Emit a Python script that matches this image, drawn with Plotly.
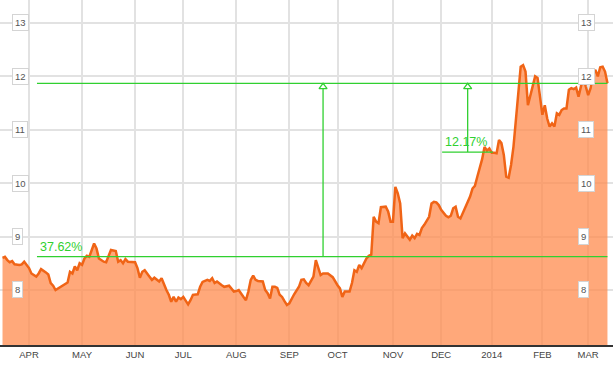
import plotly.graph_objects as go

# ---- data (trading-day index vs. closing price) ----
trading_day = [0,1,2,3,4,5,7,8,9,11,12,14,15,16,18,19,20,21,22,24,25,27,28,29,30,31,32,33,34,35,36,38,39,40,42,43,45,47,48,49,50,51,52,54,55,56,57,58,59,61,62,63,65,66,67,68,69,70,71,72,73,74,75,76,77,78,79,81,82,83,85,86,87,88,89,91,92,94,95,96,97,98,100,101,102,103,104,105,106,108,109,110,111,112,113,114,115,116,117,118,119,120,121,123,124,125,126,127,129,130,131,132,133,135,137,138,139,140,141,142,144,145,146,147,148,149,150,151,152,153,154,155,156,157,159,160,161,162,163,164,165,166,167,169,170,171,172,173,174,175,177,178,179,180,181,182,184,185,186,187,188,189,190,191,192,193,194,195,196,197,198,199,200,201,202,203,204,205,206,207,208,209,210,211,212,213,214,215,216,217,218,219,220,221,222,223,224,225,226,227,228,229,230,231,232,233,234,235,236,237,238,239,240,241,242,243,244,245,246,247,248,249,250,251]
close = [8.60,8.62,8.56,8.52,8.54,8.48,8.47,8.48,8.53,8.41,8.31,8.25,8.31,8.39,8.33,8.29,8.13,8.08,8.00,8.06,8.09,8.14,8.34,8.31,8.44,8.37,8.50,8.47,8.59,8.64,8.62,8.87,8.78,8.59,8.53,8.52,8.75,8.73,8.53,8.56,8.50,8.58,8.53,8.52,8.52,8.41,8.23,8.34,8.37,8.25,8.19,8.23,8.16,8.22,8.09,8.00,7.91,7.78,7.87,7.78,7.86,7.83,7.87,7.81,7.73,7.81,7.91,7.92,8.06,8.15,8.19,8.17,8.22,8.13,8.16,8.09,8.06,8.08,8.03,7.97,7.98,8.00,7.87,7.81,7.97,8.19,8.27,8.19,8.17,8.16,8.00,7.94,7.84,8.06,8.06,8.04,7.91,7.87,7.79,7.72,7.75,7.84,7.92,8.06,8.19,8.20,8.13,8.09,8.25,8.56,8.41,8.28,8.31,8.31,8.24,8.16,8.09,8.03,7.87,7.97,7.97,8.13,8.37,8.34,8.47,8.41,8.51,8.59,8.64,8.66,9.37,9.28,9.25,9.55,9.56,9.47,9.28,9.28,9.93,9.81,9.62,8.97,9.06,8.94,9.02,8.97,9.05,9.03,9.16,9.22,9.37,9.62,9.65,9.64,9.59,9.50,9.39,9.36,9.39,9.53,9.56,9.37,9.34,9.44,9.53,9.62,9.75,9.90,9.95,10.12,10.28,10.45,10.68,10.61,10.65,10.57,10.57,10.56,10.81,10.75,10.53,10.12,10.10,10.34,10.68,11.21,11.71,12.18,12.21,12.09,11.46,11.65,11.84,12.00,11.97,11.59,11.28,11.46,11.21,11.06,11.12,11.06,11.31,11.28,11.37,11.40,11.40,11.75,11.78,11.76,11.79,11.62,11.84,12.00,11.81,11.65,11.78,12.06,12.12,12.00,12.17,12.18,12.09,11.87]

month_ticks = [11, 33, 55, 75, 97, 119, 139, 162, 182, 203, 224, 243]
month_labels = ["APR", "MAY", "JUN", "JUL", "AUG", "SEP", "OCT", "NOV", "DEC", "2014", "FEB", "MAR"]
price_ticks = [8, 9, 10, 11, 12, 13]

# measurement tool: base prices and where they were drawn
base_long = 8.625
base_short = 10.582
long_from, long_arrow = 14.3, 133
short_from, short_arrow, short_to = 182.4, 193, 203.5

# ---- layout constants ----
W, H = 613, 369
MB = 24
Y_RANGE = [6.97, 13.43]
X_RANGE = [-1.04, 253.3]
GREEN = "#30d030"
px_per_unit = (H - MB) / (Y_RANGE[1] - Y_RANGE[0])

last = close[-1]
x_end = trading_day[-1]

fig = go.Figure()

fig.add_trace(go.Scatter(
    x=trading_day, y=close, mode="lines",
    line=dict(color="rgb(240,100,22)", width=2.5),
    fill="tozeroy", fillcolor="rgba(255,140,80,0.76)",
    hoverinfo="skip", showlegend=False,
))

def hline(x0, x1, y):
    fig.add_trace(go.Scatter(x=[x0, x1], y=[y, y], mode="lines",
                             line=dict(color=GREEN, width=1.3),
                             hoverinfo="skip", showlegend=False))

def arrow(x, y0, y1):
    tip_center = y1 - 3.6 / px_per_unit
    base = y1 - 5.4 / px_per_unit
    fig.add_trace(go.Scatter(x=[x, x], y=[y0, base], mode="lines",
                             line=dict(color=GREEN, width=1.3),
                             hoverinfo="skip", showlegend=False))
    fig.add_trace(go.Scatter(x=[x], y=[tip_center], mode="markers",
                             marker=dict(symbol="triangle-up-open", size=7,
                                         color=GREEN, line=dict(width=1.3, color=GREEN)),
                             hoverinfo="skip", showlegend=False))

hline(long_from, x_end, last)
hline(long_from, x_end, base_long)
arrow(long_arrow, base_long, last)
hline(short_from, short_to, base_short)
arrow(short_arrow, base_short, last)

pct_long = (last / base_long - 1) * 100
pct_short = (last / base_short - 1) * 100

fig.add_annotation(x=long_from, y=base_long, xref="x", yref="y",
                   text=f"{pct_long:.2f}%", showarrow=False,
                   xanchor="left", yanchor="bottom", xshift=1, yshift=1,
                   font=dict(family="Liberation Sans, Arial", size=12.5, color=GREEN))
fig.add_annotation(x=short_from, y=base_short, xref="x", yref="y",
                   text=f"{pct_short:.2f}%", showarrow=False,
                   xanchor="left", yanchor="bottom", xshift=1, yshift=1,
                   font=dict(family="Liberation Sans, Arial", size=12.5, color=GREEN))

# price labels in small boxes, both sides
for v in price_ticks:
    for xp in (12 / W, 578 / W):
        fig.add_annotation(x=xp, y=v, xref="paper", yref="y", text=str(v),
                           showarrow=False, xanchor="left", yanchor="middle",
                           bgcolor="white", bordercolor="#d4d4d4", borderwidth=1,
                           borderpad=2,
                           font=dict(family="Liberation Sans, Arial", size=9.5, color="#555"))

fig.update_layout(
    width=W, height=H,
    margin=dict(l=0, r=0, t=0, b=MB),
    paper_bgcolor="white", plot_bgcolor="white",
    xaxis=dict(range=X_RANGE, tickmode="array", tickvals=month_ticks, ticktext=month_labels,
               showgrid=True, gridcolor="#e2e2e2", gridwidth=1.5, zeroline=False,
               showline=True, linecolor="#333", linewidth=1.5, ticks="",
               tickfont=dict(family="Liberation Sans, Arial", size=9.5, color="#444"),
               fixedrange=True),
    yaxis=dict(range=Y_RANGE, tickmode="array", tickvals=price_ticks,
               showticklabels=False, showgrid=True, gridcolor="#e2e2e2", gridwidth=1.5,
               zeroline=False, ticks="", fixedrange=True),
)

fig.write_html("out.html")
